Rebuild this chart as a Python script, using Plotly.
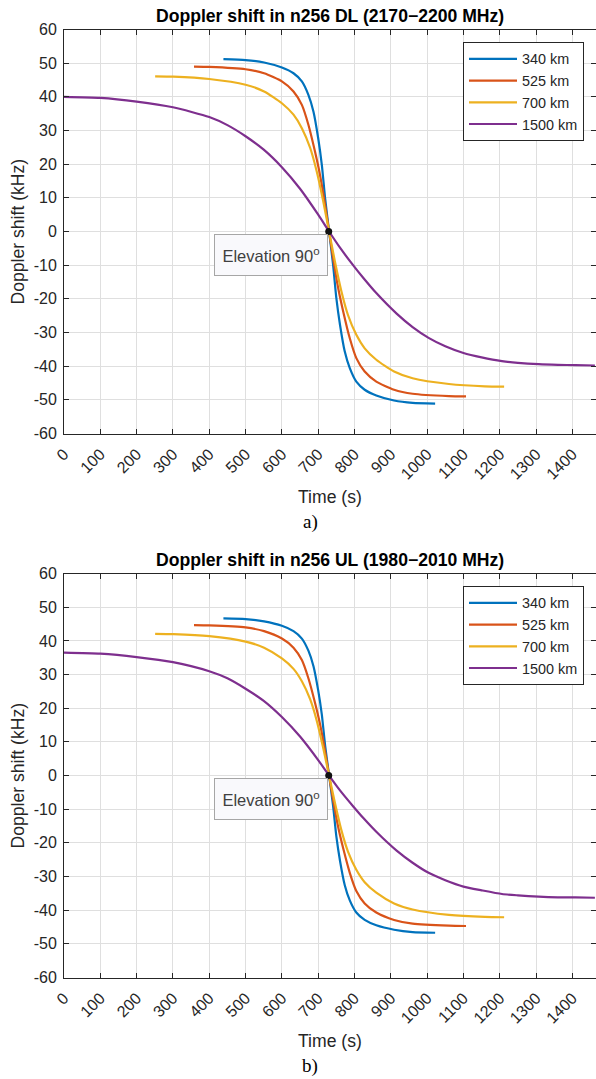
import plotly.graph_objects as go

# ---------------- data ----------------
labels = ["340 km", "525 km", "700 km", "1500 km"]
colors = ["#0072BD", "#D95319", "#EDB120", "#7E2F8E"]

# Panel a) n256 DL
t_340_dl = [439, 500, 551, 600, 632, 655, 673, 687, 700, 710, 719, 730,
            741, 750, 760, 773, 787, 805, 828, 860, 909, 960, 1022]
d_340_dl = [51.2, 50.9, 50.2, 48.7, 47.0, 44.6, 40.6, 35.6, 27.7, 19.8, 9.9, 0.0,
            -9.9, -19.8, -27.7, -35.6, -40.6, -44.6, -47.0, -48.7, -50.2, -50.9, -51.1]

t_525_dl = [358, 400, 500, 551, 600, 632, 655, 673, 691, 705, 719, 730,
            741, 755, 769, 787, 805, 828, 860, 909, 960, 1060, 1107]
d_525_dl = [49.0, 48.9, 48.2, 47.0, 44.6, 41.6, 37.6, 31.7, 23.8, 16.8, 7.9, 0.0,
            -7.9, -16.8, -23.8, -31.7, -37.6, -41.6, -44.6, -47.0, -48.2, -48.9, -49.0]

t_700_dl = [251, 301, 400, 500, 551, 600, 632, 655, 678, 696, 714, 730,
            746, 764, 782, 805, 828, 860, 909, 960, 1060, 1159, 1212]
d_700_dl = [46.1, 46.0, 45.3, 43.6, 41.6, 38.1, 34.7, 30.7, 24.8, 17.8, 8.9, 0.0,
            -8.9, -17.8, -24.8, -30.7, -34.7, -38.1, -41.6, -43.6, -45.3, -46.0, -46.1]

t_1500_dl = [0, 100, 200, 300, 400, 450, 500, 550, 600, 650, 700, 730,
             760, 796, 825, 860, 916, 960, 1004, 1050, 1100, 1150, 1206, 1250, 1307, 1360, 1408, 1462]
d_1500_dl = [40.0, 39.7, 38.6, 36.9, 34.0, 31.6, 28.3, 24.3, 19.1, 12.7, 5.0, 0.0,
             -4.8, -10.0, -13.9, -18.3, -24.4, -28.4, -31.6, -34.1, -36.1, -37.4, -38.5, -39.0, -39.4, -39.6, -39.7, -39.8]

# Panel b) n256 UL
t_340_ul = t_340_dl
d_340_ul = [46.7, 46.5, 45.8, 44.5, 42.9, 40.7, 37.1, 32.5, 25.3, 18.1, 9.0, 0.0,
            -9.0, -18.1, -25.3, -32.5, -37.1, -40.7, -42.9, -44.5, -45.8, -46.5, -46.7]
t_525_ul = t_525_dl
d_525_ul = [44.7, 44.6, 44.0, 42.9, 40.7, 38.0, 34.3, 28.9, 21.7, 15.3, 7.2, 0.0,
            -7.2, -15.3, -21.7, -28.9, -34.3, -38.0, -40.7, -42.9, -44.0, -44.6, -44.7]
t_700_ul = t_700_dl
d_700_ul = [42.1, 42.0, 41.4, 39.8, 38.0, 34.8, 31.7, 28.0, 22.6, 16.3, 8.1, 0.0,
            -8.1, -16.3, -22.6, -28.0, -31.7, -34.8, -38.0, -39.8, -41.4, -42.0, -42.1]
t_1500_ul = t_1500_dl
d_1500_ul = [36.5, 36.2, 35.2, 33.7, 31.0, 28.9, 25.8, 22.2, 17.4, 11.6, 4.6, 0.0,
             -4.4, -9.1, -12.7, -16.7, -22.3, -25.9, -28.9, -31.1, -33.0, -34.1, -35.2, -35.6, -36.0, -36.2, -36.2, -36.3]

zenith_t = [729]
zenith_d = [0]

titles = ["Doppler shift in n256 DL (2170\u22122200 MHz)",
          "Doppler shift in n256 UL (1980\u22122010 MHz)"]
captions = ["a)", "b)"]
x_ticks = list(range(0, 1401, 100))
y_ticks = list(range(-60, 61, 10))
y_tick_text = [str(v) for v in y_ticks]   # plain hyphen minus like the original

panels = [
    [(t_340_dl, d_340_dl), (t_525_dl, d_525_dl), (t_700_dl, d_700_dl), (t_1500_dl, d_1500_dl)],
    [(t_340_ul, d_340_ul), (t_525_ul, d_525_ul), (t_700_ul, d_700_ul), (t_1500_ul, d_1500_ul)],
]

# ---------------- figure ----------------
W, H = 596, 1079
FONT = "Liberation Sans"
TXT = "#262626"

fig = go.Figure()

x0_px, x1_px = 64, 596
y_top_px = [29.5, 573.6]
y_bot_px = [433.5, 977.5]

def px_x(v):
    return v / W

def px_y(v):
    return (H - v) / H

for p in range(2):
    xa = "x" if p == 0 else "x2"
    ya = "y" if p == 0 else "y2"
    lg = "legend" if p == 0 else "legend2"
    for (tt, dd), name, c in zip(panels[p], labels, colors):
        fig.add_trace(go.Scatter(x=tt, y=dd, mode="lines", name=name,
                                 line=dict(color=c, width=2.2, shape="spline", smoothing=0.6),
                                 xaxis=xa, yaxis=ya, legend=lg))
    fig.add_trace(go.Scatter(x=zenith_t, y=zenith_d, mode="markers",
                             marker=dict(color="#111111", size=7),
                             showlegend=False, xaxis=xa, yaxis=ya, hoverinfo="skip"))

axis_common = dict(showline=True, linecolor=TXT, linewidth=1, mirror="ticks",
                   ticks="inside", ticklen=5, tickcolor=TXT, gridcolor="#dfdfdf",
                   gridwidth=1, zeroline=False, automargin=False,
                   tickfont=dict(family=FONT, size=16, color=TXT))

for p in range(2):
    sfx = "" if p == 0 else "2"
    ydom = [px_y(y_bot_px[p]), px_y(y_top_px[p])]
    fig.layout["xaxis" + sfx] = dict(
        axis_common, domain=[px_x(x0_px), px_x(x1_px)], range=[0, 1465],
        tickvals=x_ticks, tickangle=-45, anchor="y" + sfx, ticklabelstandoff=4)
    fig.layout["yaxis" + sfx] = dict(
        axis_common, domain=ydom, range=[-60, 60], tickvals=y_ticks,
        ticktext=y_tick_text, anchor="x" + sfx, ticklabelstandoff=3)

    # title
    fig.add_annotation(text="<b>" + titles[p] + "</b>", x=px_x((x0_px + x1_px) / 2),
                       y=px_y(y_top_px[p] - 14), xref="paper", yref="paper",
                       showarrow=False, font=dict(family=FONT, size=17.6, color="#000000"),
                       xanchor="center", yanchor="middle")
    # axis titles
    fig.add_annotation(text="Time (s)", x=px_x((x0_px + x1_px) / 2), y=px_y(y_bot_px[p] + 63),
                       xref="paper", yref="paper", showarrow=False,
                       font=dict(family=FONT, size=17.6, color=TXT),
                       xanchor="center", yanchor="middle")
    fig.add_annotation(text="Doppler shift (kHz)", x=px_x(18),
                       y=px_y((y_top_px[p] + y_bot_px[p]) / 2),
                       xref="paper", yref="paper", showarrow=False, textangle=-90,
                       font=dict(family=FONT, size=17.6, color=TXT),
                       xanchor="center", yanchor="middle")
    # caption
    fig.add_annotation(text=captions[p], x=px_x(310), y=px_y(y_bot_px[p] + 88),
                       xref="paper", yref="paper", showarrow=False,
                       font=dict(family="Liberation Serif", size=19, color="#000000"),
                       xanchor="center", yanchor="middle")
    # elevation label
    fig.add_annotation(text="Elevation 90<sup>o</sup>", x=569, y=-7,
                       xref="x" + sfx, yref="y" + sfx, showarrow=False,
                       font=dict(family=FONT, size=16.5, color="#404040"),
                       width=110, height=38, align="center", valign="middle",
                       bgcolor="#f9f9fc", bordercolor="#a6a6a6", borderwidth=1, borderpad=1)

legend_common = dict(bgcolor="white", bordercolor=TXT, borderwidth=1,
                     font=dict(family=FONT, size=14.4, color=TXT), itemwidth=48,
                     xanchor="right", yanchor="top", x=px_x(584), tracegroupgap=0)
fig.update_layout(
    width=W, height=H, margin=dict(l=0, r=0, t=0, b=0, autoexpand=False),
    paper_bgcolor="white", plot_bgcolor="white",
    legend=dict(legend_common, y=px_y(42)),
    legend2=dict(legend_common, y=px_y(586)),
)

fig.write_html("out.html", config={"displayModeBar": False},
               post_script="document.body.style.margin='0';document.body.style.padding='0';")
